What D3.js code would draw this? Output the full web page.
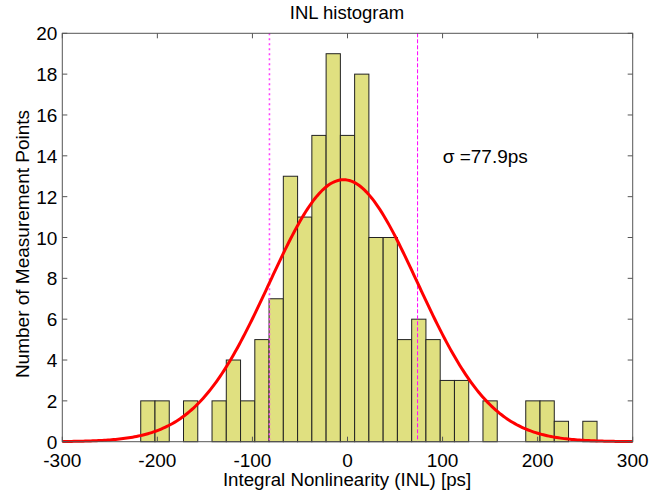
<!DOCTYPE html>
<html>
<head>
<meta charset="utf-8">
<script src="https://cdn.jsdelivr.net/npm/d3@7"></script>
<style>
  body { margin: 0; background: #fff; }
  text { font-family: "Liberation Sans", Arial, sans-serif; fill: #000; }
</style>
</head>
<body>
<svg id="chart" width="669" height="493"></svg>
<script>
// bin centers [ps] and counts
var binCenters = [-210, -195, -180, -165, -150, -135, -120, -105, -90, -75, -60, -45, -30, -15,
                  0, 15, 30, 45, 60, 75, 90, 105, 120, 135, 150, 165, 180, 195, 210, 225, 240, 255];
var binCounts = [2, 2, 0, 2, 0, 2, 4, 2, 5, 7, 13, 11, 15, 19,
                 15, 18, 10, 10, 5, 6, 5, 3, 3, 0, 2, 0, 0, 2, 2, 1, 0, 1];
var binWidth = 15;

// gaussian fit
var fitMean = -4.2;
var fitSigma = 77.9;

var xTicks = [-300, -200, -100, 0, 100, 200, 300];
var yTicks = [0, 2, 4, 6, 8, 10, 12, 14, 16, 18, 20];

function draw() {
  "use strict";
  var svg = d3.select("#chart");
  var pl = 62.3, pr = 632.7, pt = 33.3, pb = 441.7;

  var x = d3.scaleLinear().domain([-300, 300]).range([pl, pr]);
  var y = d3.scaleLinear().domain([0, 20]).range([pb, pt]);

  // bars
  svg.append("g").selectAll("rect")
    .data(binCenters.map(function (c, i) { return {c: c, n: binCounts[i]}; })
      .filter(function (d) { return d.n > 0; }))
    .enter().append("rect")
    .attr("x", function (d) { return x(d.c - binWidth / 2); })
    .attr("width", function (d) { return x(d.c + binWidth / 2) - x(d.c - binWidth / 2); })
    .attr("y", function (d) { return y(d.n); })
    .attr("height", function (d) { return y(0) - y(d.n); })
    .attr("fill", "#e0e080")
    .attr("stroke", "#222")
    .attr("stroke-width", 1);

  // sigma markers
  svg.append("line")
    .attr("x1", x(fitMean - fitSigma)).attr("x2", x(fitMean - fitSigma))
    .attr("y1", pt).attr("y2", pb)
    .attr("stroke", "#ff40ff").attr("stroke-width", 1.6)
    .attr("stroke-dasharray", "2,3");
  svg.append("line")
    .attr("x1", x(fitMean + fitSigma)).attr("x2", x(fitMean + fitSigma))
    .attr("y1", pt).attr("y2", pb)
    .attr("stroke", "#ff00ff").attr("stroke-width", 1)
    .attr("stroke-dasharray", "4,2");

  // fitted normal curve scaled to the histogram
  var total = d3.sum(binCounts);
  var curveX = d3.range(-300, 300.5, 2);
  var line = d3.line()
    .x(function (v) { return x(v); })
    .y(function (v) {
      var z = (v - fitMean) / fitSigma;
      return y(total * binWidth / (fitSigma * Math.sqrt(2 * Math.PI)) * Math.exp(-0.5 * z * z));
    });
  svg.append("path")
    .attr("d", line(curveX))
    .attr("fill", "none")
    .attr("stroke", "#ff0000")
    .attr("stroke-width", 3);

  // axes box
  var axisColor = "#555";
  svg.append("rect")
    .attr("x", pl).attr("y", pt)
    .attr("width", pr - pl).attr("height", pb - pt)
    .attr("fill", "none").attr("stroke", axisColor).attr("stroke-width", 1);

  var tickLen = 5;
  xTicks.forEach(function (t) {
    svg.append("line").attr("x1", x(t)).attr("x2", x(t))
      .attr("y1", pb).attr("y2", pb - tickLen).attr("stroke", axisColor);
    svg.append("line").attr("x1", x(t)).attr("x2", x(t))
      .attr("y1", pt).attr("y2", pt + tickLen).attr("stroke", axisColor);
    svg.append("text").attr("x", x(t)).attr("y", 467)
      .attr("text-anchor", "middle").style("font-size", "19px").text(t);
  });
  yTicks.forEach(function (t) {
    svg.append("line").attr("x1", pl).attr("x2", pl + tickLen)
      .attr("y1", y(t)).attr("y2", y(t)).attr("stroke", axisColor);
    svg.append("line").attr("x1", pr).attr("x2", pr - tickLen)
      .attr("y1", y(t)).attr("y2", y(t)).attr("stroke", axisColor);
    svg.append("text").attr("x", pl - 5).attr("y", y(t) + 7)
      .attr("text-anchor", "end").style("font-size", "19px").text(t);
  });

  svg.append("text").attr("x", 347).attr("y", 18.5)
    .attr("text-anchor", "middle").style("font-size", "18.5px").text("INL histogram");
  svg.append("text").attr("x", 347).attr("y", 486)
    .attr("text-anchor", "middle").style("font-size", "18.7px").text("Integral Nonlinearity (INL) [ps]");
  svg.append("text")
    .attr("transform", "translate(29,244) rotate(-90)")
    .attr("text-anchor", "middle").style("font-size", "19px").text("Number of Measurement Points");
  svg.append("text").attr("x", 442.7).attr("y", 163)
    .style("font-size", "19px").text("\u03c3 =77.9ps");
}

draw();
</script>
</body>
</html>
